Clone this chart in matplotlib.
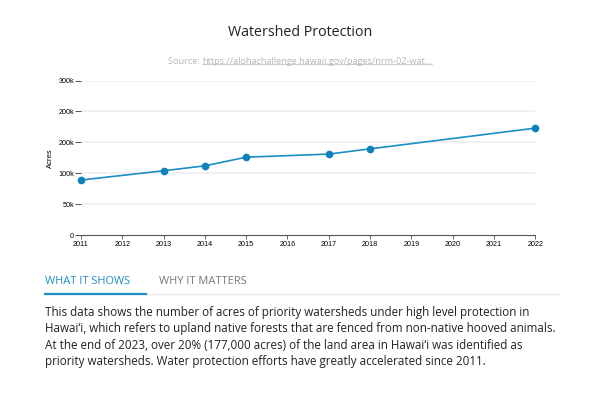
import matplotlib
matplotlib.use('Agg')
import matplotlib.pyplot as plt
from matplotlib.lines import Line2D

# Data
YEARS = [2011, 2013, 2014, 2015, 2017, 2018, 2022]
ACRES = [89000, 104000, 112000, 126000, 131000, 139500, 173000]
X_TICKS = list(range(2011, 2023))
Y_TICKS = [0, 50000, 100000, 150000, 200000, 250000]
Y_LABELS = ['0', '50k', '100k', '200k', '200k', '300k']

TITLE = 'Watershed Protection'
SOURCE_URL = 'https://alohachallenge.hawaii.gov/pages/nrm-02-wat...'
TABS = ['WHAT IT SHOWS', 'WHY IT MATTERS']
BODY = ['This data shows the number of acres of priority watersheds under high level protection in',
        'Hawai\u2018i, which refers to upland native forests that are fenced from non-native hooved animals.',
        'At the end of 2023, over 20% (177,000 acres) of the land area in Hawai\u2018i was identified as',
        'priority watersheds. Water protection efforts have greatly accelerated since 2011.']

BLUE = '#1b8ec4'
plt.rcParams['font.family'] = ['Open Sans', 'DejaVu Sans']

fig = plt.figure(figsize=(6, 4), dpi=100)

# Chart area
ax = fig.add_axes([0.135, 0.4125, 0.757, 0.386])
ax.plot(YEARS, ACRES, color=BLUE, linewidth=1.2, marker='o', markersize=4.5,
        markerfacecolor='#0b82b9', markeredgecolor='#0b82b9', zorder=3, clip_on=False)
ax.set_xlim(2011, 2022)
ax.set_ylim(0, 250000)
ax.set_xticks(X_TICKS)
ax.set_xticklabels([str(y) for y in X_TICKS], fontsize=5.2, family='Liberation Sans')
ax.set_yticks(Y_TICKS)
ax.set_yticklabels(Y_LABELS, fontsize=5.2, family='Liberation Sans')
for s in ['top', 'right', 'left']:
    ax.spines[s].set_visible(False)
ax.spines['bottom'].set_color('#555555')
ax.spines['bottom'].set_linewidth(0.8)
ax.tick_params(axis='x', length=3, width=0.6, color='#555555', pad=1)
ax.tick_params(axis='y', length=4, width=0.6, color='#333333', pad=1)
for v in Y_TICKS[1:]:
    ax.axhline(v, color='#efefef', linewidth=1.3, zorder=0)
ax.set_ylabel('Acres', fontsize=5.5, family='Liberation Sans', labelpad=3)

# Title and source
fig.text(0.5, 1 - 33 / 400, TITLE, ha='center', va='center', fontsize=10.3, color='#222222')
src = fig.text(168 / 600, 1 - 61 / 400, 'Source: ', ha='left', va='center', fontsize=6.6, color='#b5b5b5')
fig.canvas.draw()
r = fig.canvas.get_renderer()
bb = src.get_window_extent(r).transformed(fig.transFigure.inverted())
url = fig.text(bb.x1, 1 - 61 / 400, SOURCE_URL, ha='left', va='center', fontsize=6.6, color='#b5b5b5')
ub = url.get_window_extent(r).transformed(fig.transFigure.inverted())
fig.add_artist(Line2D([ub.x0, ub.x1], [ub.y0 + 0.004, ub.y0 + 0.004], color='#b5b5b5', linewidth=0.5))

# Tabs
fig.text(45 / 600, 1 - 282 / 400, TABS[0], ha='left', va='center', fontsize=7.9, color=BLUE)
fig.text(159 / 600, 1 - 282 / 400, TABS[1], ha='left', va='center', fontsize=7.9, color='#777777')
fig.add_artist(Line2D([45 / 600, 558 / 600], [1 - 294 / 400] * 2, color='#e6e6e6', linewidth=1))
fig.add_artist(Line2D([45 / 600, 146 / 600], [1 - 294 / 400] * 2, color=BLUE, linewidth=1.6))

# Body text
for i, line in enumerate(BODY):
    fig.text(45 / 600, 1 - (312.5 + i * 16.4) / 400, line, ha='left', va='center',
             fontsize=8.37, color='#222222')

fig.savefig('out.png', dpi=100)
